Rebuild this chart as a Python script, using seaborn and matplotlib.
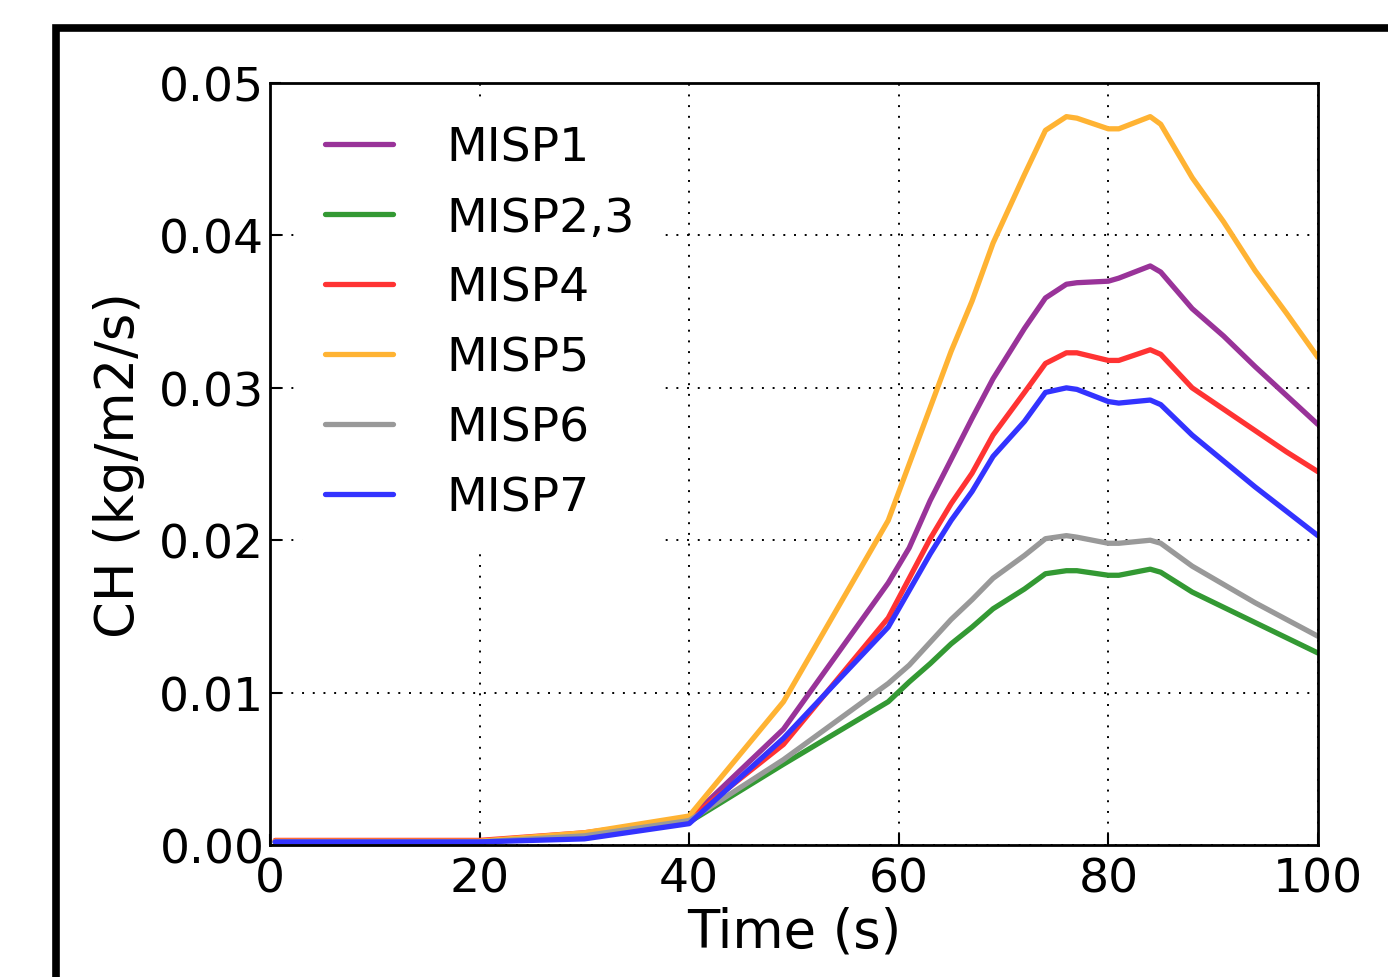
import seaborn as sns
import matplotlib.pyplot as plt
import matplotlib.ticker as mticker
from matplotlib.patches import Rectangle
import pandas as pd
import numpy as np

# values
time = [0.5, 10, 20, 30, 40, 49, 59, 61, 63, 65, 67, 69, 72, 74, 76, 77,
        80, 81, 84, 85, 88, 91, 94, 97, 100]

misp1 = [0.0002, 0.0002, 0.0002, 0.0007, 0.0017, 0.0076, 0.0172, 0.0195, 0.0226,
         0.0253, 0.0280, 0.0306, 0.0339, 0.0359, 0.0368, 0.0369, 0.0370, 0.0372,
         0.0380, 0.0376, 0.0352, 0.0334, 0.0314, 0.0295, 0.0276]
misp23 = [0.0002, 0.0002, 0.0002, 0.0006, 0.0015, 0.0053, 0.0094, 0.0107, 0.0119,
          0.0132, 0.0143, 0.0155, 0.0168, 0.0178, 0.0180, 0.0180, 0.0177, 0.0177,
          0.0181, 0.0179, 0.0166, 0.0156, 0.0146, 0.0136, 0.0126]
misp4 = [0.0003, 0.0003, 0.0003, 0.0008, 0.0017, 0.0066, 0.0149, 0.0175, 0.0201,
         0.0224, 0.0244, 0.0269, 0.0297, 0.0316, 0.0323, 0.0323, 0.0318, 0.0318,
         0.0325, 0.0322, 0.0300, 0.0286, 0.0272, 0.0258, 0.0245]
misp5 = [0.00025, 0.00025, 0.00025, 0.0008, 0.0019, 0.0094, 0.0213, 0.0250, 0.0287,
         0.0324, 0.0357, 0.0395, 0.0440, 0.0469, 0.0478, 0.0477, 0.0470, 0.0470,
         0.0478, 0.0473, 0.0438, 0.0409, 0.0377, 0.0349, 0.0320]
misp6 = [0.0002, 0.0002, 0.0002, 0.0006, 0.0016, 0.0056, 0.0106, 0.0118, 0.0133,
         0.0148, 0.0161, 0.0175, 0.0190, 0.0201, 0.0203, 0.0202, 0.0198, 0.0198,
         0.0200, 0.0198, 0.0183, 0.0171, 0.0159, 0.0148, 0.0137]
misp7 = [0.0002, 0.0002, 0.0002, 0.0004, 0.0014, 0.0070, 0.0143, 0.0167, 0.0191,
         0.0213, 0.0232, 0.0255, 0.0278, 0.0297, 0.0300, 0.0299, 0.0291, 0.0290,
         0.0292, 0.0289, 0.0269, 0.0252, 0.0235, 0.0219, 0.0203]

labels = ['MISP1', 'MISP2,3', 'MISP4', 'MISP5', 'MISP6', 'MISP7']
series = [misp1, misp23, misp4, misp5, misp6, misp7]
colors = ['#993399', '#339933', '#FF3333', '#FFB333', '#999999', '#3333FF']

df = pd.concat([pd.DataFrame({'Time': time, 'CH': s, 'Case': lab})
                for lab, s in zip(labels, series)], ignore_index=True)

sns.set_style('white')
plt.rcParams['font.family'] = ['DejaVu Sans']
plt.rcParams['text.color'] = 'black'
plt.rcParams['axes.labelcolor'] = 'black'
plt.rcParams['xtick.color'] = 'black'
plt.rcParams['ytick.color'] = 'black'

fig = plt.figure(figsize=(13.88, 9.78), dpi=100)
ax = fig.add_axes([0.1945, 0.135, 0.755, 0.779])

sns.lineplot(data=df, x='Time', y='CH', hue='Case', hue_order=labels,
             palette=dict(zip(labels, colors)), linewidth=3.8, ax=ax,
             estimator=None, sort=False)

ax.set_xlim(0, 100)
ax.set_ylim(0, 0.05)
ax.set_xticks([0, 20, 40, 60, 80, 100])
ax.set_yticks([0, 0.01, 0.02, 0.03, 0.04, 0.05])
ax.yaxis.set_major_formatter(mticker.FormatStrFormatter('%.2f'))
ax.grid(True, color='black', linestyle=(0, (1, 4.5)), linewidth=1.4)
ax.tick_params(direction='in', length=8, width=1.5, labelsize=34,
               bottom=True, left=True)
ax.tick_params(axis='y', pad=4)
ax.tick_params(axis='x', pad=8)
for sp in ax.spines.values():
    sp.set_linewidth(2)
    sp.set_color('black')

ax.set_xlabel('Time (s)', fontsize=38, labelpad=3)
ax.set_ylabel('CH (kg/m2/s)', fontsize=38, labelpad=10)

leg = ax.legend(loc='upper left', bbox_to_anchor=(0.03, 0.975), fontsize=34,
                frameon=True, handlelength=1.45, handletextpad=1.12,
                labelspacing=0.53, borderaxespad=0, borderpad=0.5)
leg.get_frame().set_edgecolor('white')
leg.get_frame().set_facecolor('white')
leg.get_frame().set_alpha(1)
for line in leg.get_lines():
    line.set_linewidth(3.8)

# thick figure border (cut off at right and bottom, as in the source image)
fig.patches.append(Rectangle((0.0404, -0.2), 1.5, 1.1703, transform=fig.transFigure,
                             fill=False, edgecolor='black', linewidth=5.5,
                             zorder=10))

fig.savefig('out.png', dpi=100)
